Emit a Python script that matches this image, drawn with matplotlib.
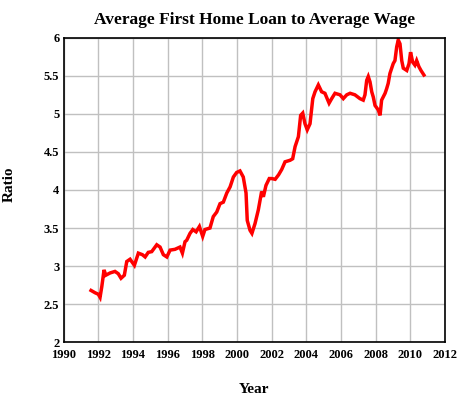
import matplotlib
matplotlib.use("Agg")
import matplotlib.pyplot as plt

# Values
years = [
    1991.58, 1991.81, 1992.0, 1992.1, 1992.2, 1992.33, 1992.43, 1992.68, 1992.96,
    1993.15, 1993.31, 1993.5, 1993.64, 1993.83, 1994.08, 1994.31, 1994.54, 1994.7,
    1994.88, 1995.08, 1995.37, 1995.56, 1995.75, 1995.95, 1996.14, 1996.42, 1996.71,
    1996.85, 1997.0, 1997.1, 1997.29, 1997.45, 1997.64, 1997.83, 1998.02, 1998.15,
    1998.44, 1998.63, 1998.83, 1999.02, 1999.21, 1999.41, 1999.6, 1999.79, 1999.98,
    2000.17, 2000.36, 2000.52, 2000.59, 2000.75, 2000.86, 2001.04, 2001.23, 2001.42,
    2001.52, 2001.67, 2001.86, 2002.0, 2002.2, 2002.4, 2002.58, 2002.77, 2003.06,
    2003.21, 2003.35, 2003.54, 2003.67, 2003.79, 2003.92, 2004.05, 2004.21, 2004.37,
    2004.5, 2004.69, 2004.88, 2005.07, 2005.31, 2005.46, 2005.65, 2005.94, 2006.13,
    2006.33, 2006.52, 2006.8, 2007.09, 2007.28, 2007.38, 2007.48, 2007.57, 2007.67,
    2007.77, 2007.86, 2007.96, 2008.15, 2008.25, 2008.34, 2008.54, 2008.63, 2008.72,
    2008.82, 2009.01, 2009.11, 2009.21, 2009.3, 2009.4, 2009.5, 2009.59, 2009.79,
    2009.92, 2010.01, 2010.13, 2010.26, 2010.36, 2010.49, 2010.61, 2010.78,
]
ratio = [
    2.68, 2.65, 2.63, 2.59, 2.73, 2.95, 2.88, 2.91, 2.93,
    2.90, 2.84, 2.88, 3.06, 3.09, 3.01, 3.17, 3.15, 3.12,
    3.18, 3.19, 3.28, 3.25, 3.15, 3.12, 3.21, 3.22, 3.25,
    3.17, 3.32, 3.34, 3.43, 3.48, 3.45, 3.52, 3.39, 3.48,
    3.50, 3.65, 3.71, 3.82, 3.84, 3.96, 4.04, 4.17, 4.23,
    4.25, 4.17, 3.96, 3.60, 3.47, 3.43, 3.56, 3.74, 3.98,
    3.91, 4.06, 4.15, 4.15, 4.14, 4.20, 4.27, 4.37, 4.39,
    4.41, 4.57, 4.70, 4.98, 5.01, 4.87, 4.79, 4.87, 5.20,
    5.29, 5.38, 5.29, 5.27, 5.14, 5.20, 5.27, 5.25, 5.20,
    5.25, 5.27, 5.25, 5.20, 5.18, 5.25, 5.44, 5.49, 5.42,
    5.29, 5.22, 5.11, 5.05, 4.98, 5.18, 5.27, 5.33, 5.40,
    5.53, 5.66, 5.70, 5.88, 5.97, 5.92, 5.70, 5.60, 5.57,
    5.66, 5.81, 5.68, 5.64, 5.70, 5.62, 5.57, 5.51,
]
x_ticks = list(range(1990, 2013, 2))
y_ticks = [2, 2.5, 3, 3.5, 4, 4.5, 5, 5.5, 6]
y_labels = ["2", "2.5", "3", "3.5", "4", "4.5", "5", "5.5", "6"]

plt.rcParams["font.family"] = ["Liberation Serif", "DejaVu Serif"]
plt.rcParams["font.weight"] = "bold"

fig = plt.figure(figsize=(4.68, 3.97), dpi=100)
ax = fig.add_axes([0.136, 0.138, 0.815, 0.767])

ax.plot(years, ratio, color="#ff0000", linewidth=2.5, solid_joinstyle="miter")

ax.set_xlim(1990, 2012)
ax.set_ylim(2, 6)
ax.set_xticks(x_ticks)
ax.set_yticks(y_ticks)
ax.set_yticklabels(y_labels)
ax.tick_params(length=0, labelsize=9)
ax.tick_params(axis="x", pad=5)
ax.tick_params(axis="y", pad=3)
for lbl in ax.get_xticklabels() + ax.get_yticklabels():
    lbl.set_fontweight("bold")
ax.grid(True, color="#c0c0c0", linewidth=1)
ax.set_axisbelow(True)
for s in ax.spines.values():
    s.set_color("black")
    s.set_linewidth(1.2)

ax.set_title("Average First Home Loan to Average Wage", fontsize=12.5,
             fontweight="bold", pad=10)
ax.set_xlabel("Year", fontsize=11, fontweight="bold")
ax.set_ylabel("Ratio", fontsize=11, fontweight="bold")
ax.xaxis.set_label_coords(0.5, -0.134)
ax.yaxis.set_label_coords(-0.125, 0.52)

fig.savefig("out.png", dpi=100)
